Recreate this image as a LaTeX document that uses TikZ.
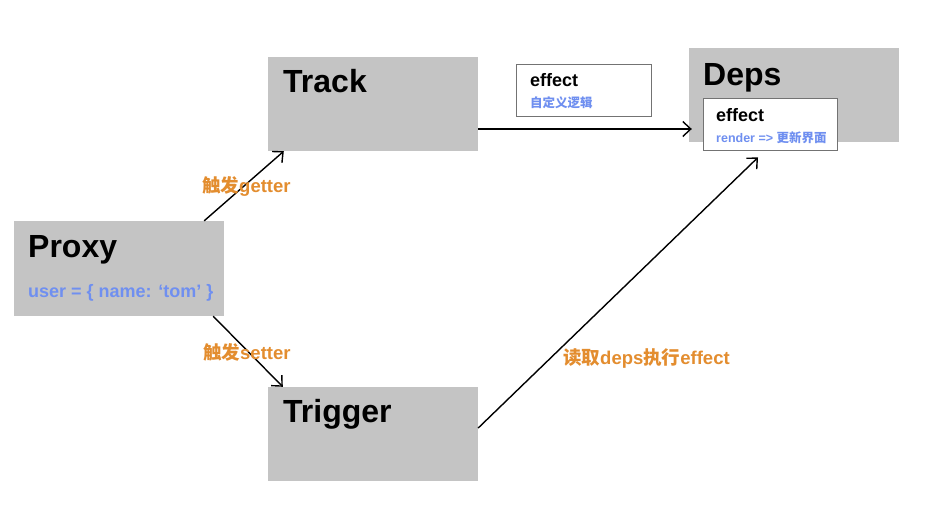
\documentclass[tikz,border=0pt]{standalone}
\usepackage{fontspec}
\setmainfont{Liberation Sans}
\newfontfamily\cjk{Noto Sans CJK SC}
\usetikzlibrary{arrows.meta,calc}
\definecolor{boxgray}{HTML}{C4C4C4}
\definecolor{labelorange}{HTML}{E38D2F}
\definecolor{codeblue}{HTML}{6F8FF0}
\begin{document}
\begin{tikzpicture}[x=1pt, y=-1pt,
  blk/.style={fill=boxgray, minimum width=210pt, minimum height=94pt, inner sep=0pt},
  eff/.style={draw=black!55, fill=white, line width=0.8pt, minimum width=135pt, minimum height=52pt, inner sep=0pt},
  title/.style={anchor=base west, inner sep=0pt, font=\fontsize{32}{36}\selectfont\bfseries},
  sub/.style={anchor=base west, inner sep=0pt, font=\fontsize{18}{20}\selectfont\bfseries},
  note/.style={anchor=base west, inner sep=0pt, text=codeblue, font=\fontsize{12.5}{14}\selectfont\bfseries},
  lbl/.style={anchor=base west, inner sep=0pt, text=labelorange, font=\fontsize{18.5}{20}\selectfont\bfseries},
  arr/.style={line width=1.4pt, -{Straight Barb[length=8pt,width=15pt]}}]
  \useasboundingbox (0,0) rectangle (948,504);
  % boxes
  \node[blk] (track) at (373,104) {};
  \node[blk] (trigger) at (373,434) {};
  \node[blk, minimum height=95pt] (proxy) at (119,268.5) {};
  \node[blk] (deps) at (794,95) {};
  \node[eff] (eff1) at (583.5,90) {};
  \node[eff, minimum width=134pt] (eff2) at (770,124) {};
  % texts
  \node[title] (tracktxt) at (283,92) {Track};
  \node[title] (triggertxt) at (283,422) {Trigger};
  \node[title] (proxytxt) at (28,257) {Proxy};
  \node[title] (depstxt) at (703,85) {Deps};
  \node[anchor=base west, inner sep=0pt, text=codeblue, font=\fontsize{18}{20}\selectfont\bfseries] (usertxt) at (28,297) {user = \{ name: ‘tom’ \}};
  \node[sub] (eff1txt) at (530,86) {effect};
  \node[note] (eff1note) at (530,107) {\cjk 自定义逻辑};
  \node[sub] (eff2txt) at (716,121) {effect};
  \node[note] (eff2note) at (716,142) {render => {\cjk 更新界面}};
  % connectors
  \draw[arr] ($(proxy.north east)+(-20,0)$) -- ($(track.south west)+(16,0)$);
  \draw[arr] ($(proxy.south east)+(-11,0)$) -- ($(trigger.north west)+(15,0)$);
  \draw[arr] ($(track.east)+(0,25)$) -- ($(deps.west)+(3,34)$);
  \draw[arr] ($(trigger.east)+(0,-6)$) -- ($(eff2.south)+(-12,7)$);
  \node[lbl] (getlbl) at (202,192) {{\cjk 触发}getter};
  \node[lbl] (setlbl) at (203,359) {{\cjk 触发}setter};
  \node[lbl] (readlbl) at (563,364) {{\cjk 读取}deps{\cjk 执行}effect};
\end{tikzpicture}
\end{document}
